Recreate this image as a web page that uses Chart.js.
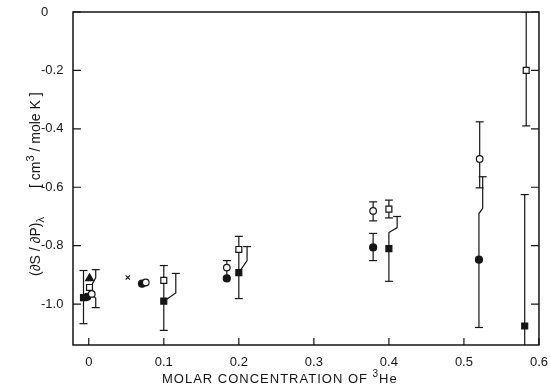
<!DOCTYPE html>
<html lang="en">
<head>
    <meta charset="UTF-8">
    <title>dS/dP vs 3He concentration</title>
    <script src="https://cdn.jsdelivr.net/npm/chart.js"></script>
    <style>
        body {
            margin: 0;
            background: #fff;
        }
    </style>
</head>
<body>
    <canvas id="chart" width="550" height="392"></canvas>

    <script>
        // tick values
        const xTicks = [0, 0.1, 0.2, 0.3, 0.4, 0.5, 0.6];
        const yTicks = [0, -0.2, -0.4, -0.6, -0.8, -1.0];

        // filled squares
        const sqFilledX = [-0.007, 0.1, 0.2, 0.4, 0.581];
        const sqFilledY = [-0.978, -0.99, -0.892, -0.81, -1.075];
        const sqFilledLo = [-1.067, -1.09, -0.981, -0.922, -1.2];
        const sqFilledHi = [-0.885, null, null, null, -0.625];

        // open squares
        const sqOpenX = [0.001, 0.1, 0.2, 0.4, 0.583];
        const sqOpenY = [-0.943, -0.919, -0.813, -0.675, -0.2];
        const sqOpenLo = [null, null, null, -0.705, -0.39];
        const sqOpenHi = [null, -0.868, -0.768, -0.644, 0];

        // filled circles
        const circFilledX = [-0.002, 0.071, 0.184, 0.379, 0.52];
        const circFilledY = [-0.975, -0.93, -0.912, -0.806, -0.848];
        const circFilledLo = [null, null, null, -0.851, -1.08];
        const circFilledHi = [null, null, null, -0.758, null];

        // open circles
        const circOpenX = [0.004, 0.076, 0.184, 0.379, 0.521];
        const circOpenY = [-0.965, -0.926, -0.875, -0.681, -0.503];
        const circOpenLo = [null, null, null, -0.715, -0.602];
        const circOpenHi = [null, null, -0.851, -0.65, -0.376];

        // single points
        const triX = [0.001];
        const triY = [-0.912];
        const crossX = [0.052];
        const crossY = [-0.909];

        // displaced error bars and connectors (cap on last point if hookCap)
        const hookX = [
            [0.003, 0.0093, 0.0093],
            [0.004, 0.0093, 0.0093],
            [0.1, 0.116, 0.116],
            [0.2, 0.211, 0.211],
            [0.4, 0.4, 0.411, 0.411],
            [0.52, 0.52, 0.525, 0.525],
            [0.1, 0.1],
            [0.2, 0.2],
            [0.184, 0.184]
        ];
        const hookY = [
            [-0.94, -0.909, -0.882],
            [-0.965, -0.98, -1.012],
            [-0.99, -0.962, -0.895],
            [-0.892, -0.851, -0.803],
            [-0.81, -0.755, -0.738, -0.70],
            [-0.848, -0.69, -0.672, -0.564],
            [-0.919, -0.99],
            [-0.813, -0.892],
            [-0.875, -0.912]
        ];
        const hookCap = [1, 1, 1, 1, 1, 1, 0, 0, 0];

        const INK = '#151515';
        const FONT = '"Liberation Sans", Arial, sans-serif';

        function points(xs, ys) {
            return xs.map((x, i) => ({x: x, y: ys[i]}));
        }

        // build one gapped line from all error bars, caps where a bound is given
        function errorBars(series) {
            const pts = [], caps = [];
            series.forEach(([xs, ys, los, his]) => {
                xs.forEach((x, i) => {
                    if (los[i] === null && his[i] === null) return;
                    pts.push({x: x, y: los[i] ?? ys[i]}); caps.push(los[i] !== null);
                    pts.push({x: x, y: his[i] ?? ys[i]}); caps.push(his[i] !== null);
                    pts.push({x: x, y: null}); caps.push(false);
                });
            });
            return {pts, caps};
        }

        function hooks() {
            const pts = [], caps = [];
            hookX.forEach((xs, k) => {
                xs.forEach((x, i) => {
                    pts.push({x: x, y: hookY[k][i]});
                    caps.push(hookCap[k] && i === xs.length - 1);
                });
                pts.push({x: xs[0], y: null}); caps.push(false);
            });
            return {pts, caps};
        }

        const errs = errorBars([
            [sqFilledX, sqFilledY, sqFilledLo, sqFilledHi],
            [sqOpenX, sqOpenY, sqOpenLo, sqOpenHi],
            [circFilledX, circFilledY, circFilledLo, circFilledHi],
            [circOpenX, circOpenY, circOpenLo, circOpenHi]
        ]);
        const hk = hooks();

        function marker(data, style, radius, filled) {
            return {
                data: data,
                pointStyle: style,
                pointRadius: radius,
                pointBackgroundColor: filled ? INK : '#fff',
                pointBorderColor: INK,
                pointBorderWidth: 1.2,
                showLine: false
            };
        }

        function lineSet(d) {
            return {
                data: d.pts,
                showLine: true,
                spanGaps: false,
                borderColor: INK,
                borderWidth: 1.2,
                pointStyle: 'line',
                pointRadius: d.caps.map(c => c ? 4 : 0),
                pointBorderColor: INK,
                pointBorderWidth: 1.2
            };
        }

        function rich(ctx, parts, x, y, size) {
            let cx = x;
            parts.forEach(([t, k]) => {
                ctx.font = (k ? size - 3 : size) + 'px ' + FONT;
                ctx.fillText(t, cx, y + (k === 1 ? -6 : k === -1 ? 4 : 0));
                cx += ctx.measureText(t).width;
            });
        }

        // frame, inward ticks and axis titles
        const frame = {
            id: 'frame',
            afterDatasetsDraw(chart) {
                const {ctx, chartArea: a, scales: {x, y}} = chart;
                ctx.save();
                ctx.strokeStyle = INK;
                ctx.lineWidth = 1.5;
                ctx.strokeRect(a.left, a.top, a.right - a.left, a.bottom - a.top);
                ctx.lineWidth = 1.2;
                ctx.beginPath();
                y.ticks.forEach(t => {
                    const py = y.getPixelForValue(t.value);
                    ctx.moveTo(a.left, py); ctx.lineTo(a.left + 8, py);
                    ctx.moveTo(a.right, py); ctx.lineTo(a.right - 8, py);
                });
                x.ticks.forEach(t => {
                    const px = x.getPixelForValue(t.value);
                    ctx.moveTo(px, a.bottom); ctx.lineTo(px, a.bottom - 7);
                });
                ctx.stroke();

                ctx.fillStyle = INK;
                ctx.textBaseline = 'alphabetic';
                ctx.textAlign = 'left';
                ctx.letterSpacing = '1px';
                rich(ctx, [['MOLAR CONCENTRATION OF ', 0], ['3', 1], ['He', 0]], 162, 383, 13);
                ctx.letterSpacing = '0px';

                ctx.translate(40, 276);
                ctx.rotate(-Math.PI / 2);
                rich(ctx, [['(\u2202S / \u2202P)', 0], ['\u03bb', -1]], 0, 0, 14);
                rich(ctx, [['[ cm', 0], ['3', 1], [' / mole K ]', 0]], 88, 0, 14);
                ctx.restore();
            }
        };

        new Chart(document.getElementById('chart'), {
            type: 'scatter',
            data: {
                datasets: [
                    marker(points(triX, triY), 'triangle', 4.5, true),
                    marker(points(crossX, crossY), 'crossRot', 3, false),
                    marker(points(circOpenX, circOpenY), 'circle', 3.3, false),
                    marker(points(circFilledX, circFilledY), 'circle', 3.5, true),
                    marker(points(sqOpenX, sqOpenY), 'rect', 4.2, false),
                    marker(points(sqFilledX, sqFilledY), 'rect', 4.2, true),
                    lineSet(errs),
                    lineSet(hk)
                ]
            },
            options: {
                responsive: false,
                animation: false,
                events: [],
                layout: {padding: {top: 12, right: 10, left: 41, bottom: 0}},
                plugins: {legend: {display: false}, tooltip: {enabled: false}},
                scales: {
                    x: {
                        type: 'linear',
                        min: -0.021,
                        max: 0.6,
                        grid: {display: false},
                        border: {display: false},
                        afterBuildTicks: s => { s.ticks = xTicks.map(v => ({value: v})); },
                        afterFit: s => { s.height = 47; },
                        ticks: {
                            color: INK,
                            font: {family: FONT, size: 13},
                            padding: 2,
                            maxRotation: 0,
                            callback: v => v === 0 ? '0' : v.toFixed(1)
                        }
                    },
                    y: {
                        type: 'linear',
                        min: -1.14,
                        max: 0,
                        grid: {display: false},
                        border: {display: false},
                        afterBuildTicks: s => { s.ticks = yTicks.map(v => ({value: v})); },
                        afterFit: s => { s.width = 32; },
                        ticks: {
                            color: INK,
                            font: {family: FONT, size: 13},
                            crossAlign: 'far',
                            callback: v => v === 0 ? '0' : v.toFixed(1)
                        }
                    }
                }
            },
            plugins: [frame]
        });
    </script>
</body>
</html>
